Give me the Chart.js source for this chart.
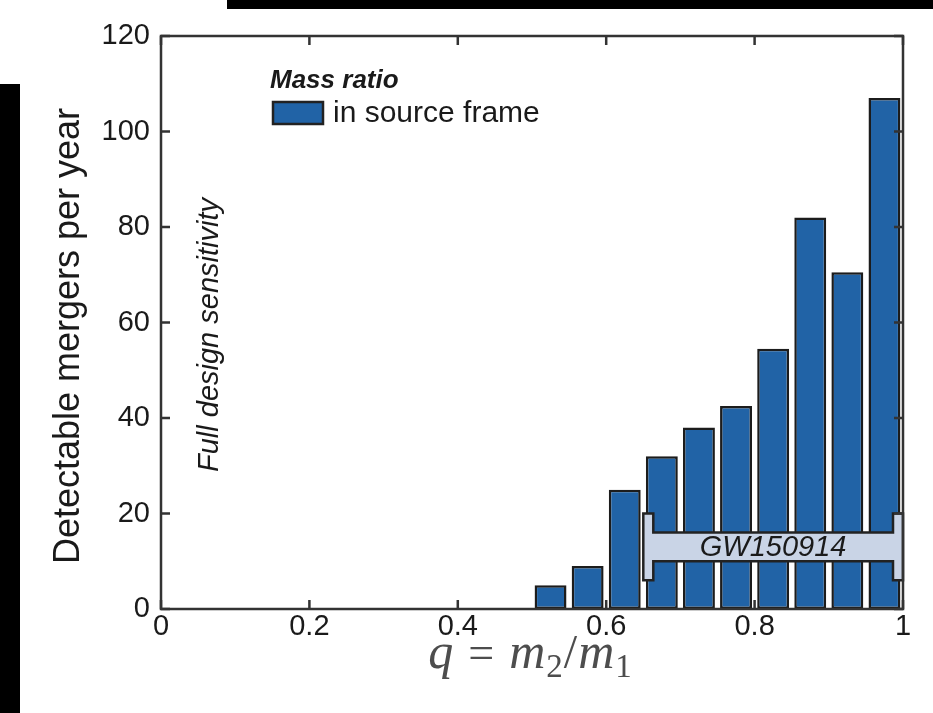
<!DOCTYPE html>
<html>
<head>
<meta charset="utf-8">
<script src="https://cdn.jsdelivr.net/npm/chart.js@4.4.1/dist/chart.umd.min.js"></script>
<style>
  html, body { margin: 0; padding: 0; background: #fff; }
  #caja { position: relative; width: 933px; height: 713px; }
  .negro { position: absolute; background: #000; }
</style>
</head>
<body>
<div id="caja">
  <canvas id="grafica" width="933" height="713"></canvas>
  <div class="negro" style="left:227px; top:0; width:706px; height:9px;"></div>
  <div class="negro" style="left:0; top:84px; width:20px; height:629px;"></div>
</div>
<script>
// centros de los bins de q = m2/m1 (ancho 0.05)
const centrosQ = [0.525, 0.575, 0.625, 0.675, 0.725, 0.775, 0.825, 0.875, 0.925, 0.975];
// fusiones detectables por año en cada bin
const fusiones = [5, 9, 25, 32, 38, 42.5, 54.5, 82, 70.5, 107];
const ticksX = [0, 0.2, 0.4, 0.6, 0.8, 1];
const ticksY = [0, 20, 40, 60, 80, 100, 120];
// intervalo de q de GW150914
const rangoGW = [0.65, 1.0];

const azul = "#2163a6";
const textoOscuro = "#1a1a1a";
const fuente = "'Liberation Sans', Arial, Helvetica, sans-serif";

const adornos = {
  id: "adornos",
  afterDatasetsDraw(chart) {
    const ctx = chart.ctx;
    const a = chart.chartArea;
    const x = chart.scales.x;
    const y = chart.scales.y;
    ctx.save();

    // barra de GW150914
    const x0 = x.getPixelForValue(rangoGW[0]);
    const x1 = x.getPixelForValue(rangoGW[1]);
    const tapa = 10;
    const bt = y.getPixelForValue(16), bb = y.getPixelForValue(10);
    const ct = y.getPixelForValue(20), cb = y.getPixelForValue(6);
    ctx.beginPath();
    ctx.moveTo(x0, ct); ctx.lineTo(x0 + tapa, ct); ctx.lineTo(x0 + tapa, bt);
    ctx.lineTo(x1 - tapa, bt); ctx.lineTo(x1 - tapa, ct); ctx.lineTo(x1, ct);
    ctx.lineTo(x1, cb); ctx.lineTo(x1 - tapa, cb); ctx.lineTo(x1 - tapa, bb);
    ctx.lineTo(x0 + tapa, bb); ctx.lineTo(x0 + tapa, cb); ctx.lineTo(x0, cb);
    ctx.closePath();
    ctx.fillStyle = "#c9d4e6";
    ctx.fill();
    ctx.lineWidth = 2.5;
    ctx.strokeStyle = "#222";
    ctx.stroke();
    ctx.fillStyle = textoOscuro;
    ctx.font = "italic 29px " + fuente;
    ctx.textAlign = "center";
    ctx.textBaseline = "middle";
    ctx.fillText("GW150914", (x0 + x1) / 2, (bt + bb) / 2 + 1);

    // marco de los ejes
    ctx.lineWidth = 2.5;
    ctx.strokeStyle = "#333";
    ctx.strokeRect(a.left, a.top, a.right - a.left, a.bottom - a.top);

    // marcas hacia dentro
    const largo = 9;
    ctx.beginPath();
    ticksX.forEach(v => {
      const px = x.getPixelForValue(v);
      ctx.moveTo(px, a.bottom); ctx.lineTo(px, a.bottom - largo);
      ctx.moveTo(px, a.top); ctx.lineTo(px, a.top + largo);
    });
    ticksY.forEach(v => {
      const py = y.getPixelForValue(v);
      ctx.moveTo(a.left, py); ctx.lineTo(a.left + largo, py);
      ctx.moveTo(a.right, py); ctx.lineTo(a.right - largo, py);
    });
    ctx.stroke();

    // leyenda
    ctx.textAlign = "left";
    ctx.textBaseline = "alphabetic";
    ctx.fillStyle = textoOscuro;
    ctx.font = "italic bold 26px " + fuente;
    ctx.fillText("Mass ratio", 270, 88);
    const ds = chart.data.datasets[0];
    ctx.fillStyle = ds.backgroundColor;
    ctx.fillRect(273, 102, 50, 22);
    ctx.lineWidth = 2.5;
    ctx.strokeStyle = "#222";
    ctx.strokeRect(273, 102, 50, 22);
    ctx.fillStyle = textoOscuro;
    ctx.font = "30px " + fuente;
    ctx.fillText(ds.label, 333, 122);

    // textos verticales
    ctx.save();
    ctx.translate(218, 335);
    ctx.rotate(-Math.PI / 2);
    ctx.textAlign = "center";
    ctx.font = "italic 29px " + fuente;
    ctx.fillText("Full design sensitivity", 0, 0);
    ctx.restore();

    ctx.save();
    ctx.translate(79, 336);
    ctx.rotate(-Math.PI / 2);
    ctx.textAlign = "center";
    ctx.font = "36px " + fuente;
    ctx.fillText("Detectable mergers per year", 0, 0);
    ctx.restore();

    // titulo del eje x: q = m2/m1
    const serif = "'Liberation Serif', 'DejaVu Serif', serif";
    const partes = [
      ["q", "italic 50px " + serif, 0, 0],
      ["=", "46px " + serif, 0, 15],
      ["m", "italic 50px " + serif, 0, 15],
      ["2", "33px " + serif, 9, 1],
      ["/", "48px " + serif, 0, 1],
      ["m", "italic 50px " + serif, 0, 1],
      ["1", "33px " + serif, 9, 1]
    ];
    let total = 0;
    partes.forEach(p => { ctx.font = p[1]; total += p[3] + ctx.measureText(p[0]).width; });
    let cx = 530 - total / 2;
    ctx.fillStyle = "#4d4d4d";
    partes.forEach(p => {
      ctx.font = p[1];
      cx += p[3];
      ctx.fillText(p[0], cx, 668 + p[2]);
      cx += ctx.measureText(p[0]).width;
    });

    ctx.restore();
  }
};

const ctx = document.getElementById("grafica").getContext("2d");
const grafica = new Chart(ctx, {
  type: "bar",
  data: {
    datasets: [
      {
        label: "in source frame",
        data: centrosQ.map((q, i) => ({ x: q, y: fusiones[i] })),
        backgroundColor: azul,
        borderColor: "#1c1c1c",
        borderWidth: 2.5,
        borderSkipped: false,
        barPercentage: 0.86,
        categoryPercentage: 1
      }
    ]
  },
  options: {
    responsive: false,
    animation: false,
    layout: { padding: { left: 0, top: 36, right: 30, bottom: 0 } },
    plugins: {
      legend: { display: false },
      tooltip: { enabled: false }
    },
    scales: {
      x: {
        type: "linear",
        min: 0,
        max: 1,
        offset: false,
        grid: { display: false, drawTicks: false },
        border: { display: false },
        afterBuildTicks: s => { s.ticks = ticksX.map(v => ({ value: v })); },
        afterFit: s => { s.height = 104; },
        ticks: {
          padding: 1,
          color: textoOscuro,
          font: { family: fuente, size: 29 },
          callback: v => String(v)
        }
      },
      y: {
        min: 0,
        max: 120,
        grid: { display: false, drawTicks: false },
        border: { display: false },
        afterBuildTicks: s => { s.ticks = ticksY.map(v => ({ value: v })); },
        afterFit: s => { s.width = 161; },
        ticks: {
          padding: 11,
          color: textoOscuro,
          font: { family: fuente, size: 29 }
        }
      }
    }
  },
  plugins: [adornos]
});
</script>
</body>
</html>
